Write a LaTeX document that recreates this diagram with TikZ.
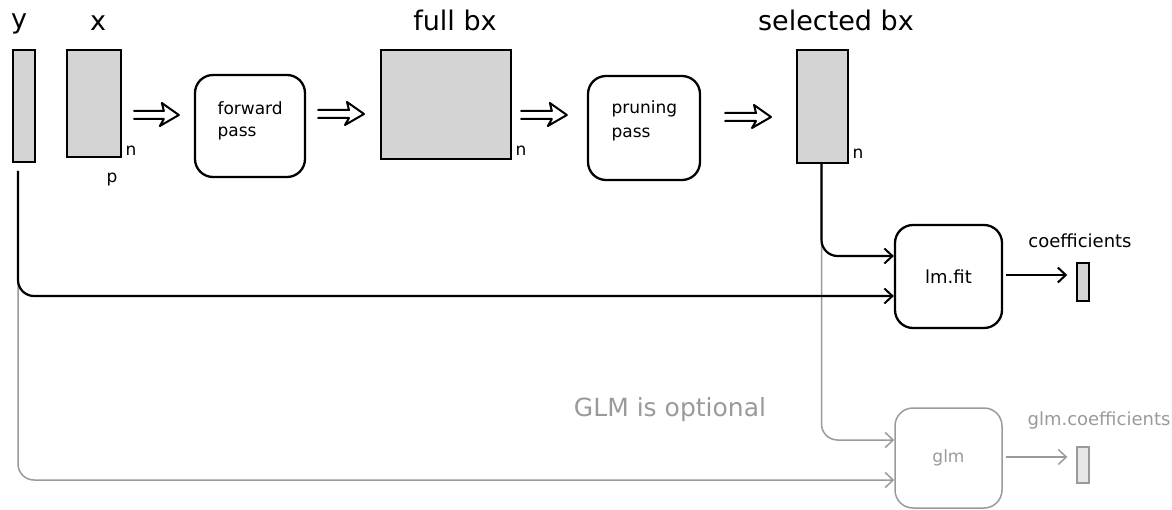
\documentclass[tikz,border=0pt]{standalone}
\usepackage{fontspec}
\setmainfont{DejaVu Sans}
\usetikzlibrary{arrows.meta,calc}
\definecolor{boxgray}{HTML}{D4D4D4}
\definecolor{lightfill}{HTML}{E6E6E6}
\definecolor{optgray}{HTML}{9A9A9A}
\tikzset{
  mat/.style={draw=black,line width=2pt,fill=boxgray,inner sep=0pt},
  stepbox/.style={draw=black,line width=2.3pt,rounded corners=18pt,inner sep=0pt,font=\fontsize{18}{20}\selectfont,align=left},
  optbox/.style={draw=optgray,line width=1.5pt,rounded corners=18pt,inner sep=0pt,text=optgray,font=\fontsize{17}{19}\selectfont},
  dblarrow/.style={draw=black,line width=2pt,line join=round,line cap=round},
  conn/.style={draw=black,line width=2.2pt,rounded corners=16pt,-{Straight Barb[length=8pt,width=15pt,line width=2pt]}},
  optconn/.style={draw=optgray,line width=1.5pt,rounded corners=16pt,-{Straight Barb[length=8pt,width=15pt,line width=1.5pt]}},
  big/.style={font=\fontsize{27}{30}\selectfont},
  small/.style={font=\fontsize{18}{20}\selectfont},
  steptext/.style={anchor=west,font=\fontsize{17}{19}\selectfont},
  dim/.style={font=\fontsize{17}{19}\selectfont},
}
\newcommand{\fatarrow}[2]{%
  \draw[dblarrow] ($(#1)+(0,-4)$) -- ($(#2)+(-15,-4)$) -- ($(#2)+(-17,-12)$) -- (#2)
     -- ($(#2)+(-19,11)$) -- ($(#2)+(-15,4)$) -- ($(#1)+(0,4)$);}
\begin{document}
\begin{tikzpicture}[x=1pt,y=-1pt]
\useasboundingbox (0,0) rectangle (1172,510);
% top row
\node[mat,minimum width=22pt,minimum height=112pt] (ysq) at (24,106) {};
\node[mat,minimum width=54pt,minimum height=107pt] (xsq) at (94,103.5) {};
\node[stepbox,minimum width=110pt,minimum height=102pt] (fwd) at (250,126) {};
\node[mat,minimum width=130pt,minimum height=109pt] (full) at (446,104.5) {};
\node[stepbox,minimum width=112pt,minimum height=104pt] (prune) at (644,128) {};
\node[mat,minimum width=51pt,minimum height=113pt] (sel) at (822.5,106.5) {};
% step texts
\node[steptext] (fwdt1) at (214,108) {forward};
\node[steptext] (fwdt2) at (214,134) {pass};
\node[steptext] (prt1) at (608,109) {pruning};
\node[steptext] (prt2) at (608,135) {pass};
% labels
\node[big] (ylab) at (19,24) {y};
\node[big] (xlab) at (98,23) {x};
\node[big] (fulllab) at (455,20) {full bx};
\node[big] (sellab) at (836,20) {selected bx};
\node[dim] (n1) at (131,151) {n};
\node[dim] (p1) at (112,180) {p};
\node[dim] (n2) at (521,151) {n};
\node[dim] (n3) at (858,154) {n};
% lower boxes
\node[stepbox,minimum width=107pt,minimum height=103pt] (lm) at (948.5,276.5) {lm.fit};
\node[mat,line width=1.5pt,minimum width=12pt,minimum height=38pt] (coef) at (1083,282) {};
\node[small] (coeflab) at (1080,241) {coefficients};
\node[optbox,minimum width=107pt,minimum height=100pt] (glm) at (948.5,458) {glm};
\node[draw=optgray,fill=lightfill,line width=1.3pt,inner sep=0pt,minimum width=12pt,minimum height=36pt] (gcoef) at (1083,465) {};
\node[small,text=optgray] (gcoeflab) at (1099,421) {glm.coefficients};
\node[text=optgray,font=\fontsize{25}{28}\selectfont] (optlab) at (670,410) {GLM is optional};
% double arrows
\coordinate (a1s) at ([xshift=12pt,yshift=-11.5pt]xsq.east);
\coordinate (a1e) at ([xshift=-15pt,yshift=11pt]fwd.west);
\coordinate (a2s) at ([xshift=12pt,yshift=12pt]fwd.east);
\coordinate (a2e) at ([xshift=-16pt,yshift=-9.5pt]full.west);
\coordinate (a3s) at ([xshift=9pt,yshift=-10.5pt]full.east);
\coordinate (a3e) at ([xshift=-20pt,yshift=13pt]prune.west);
\coordinate (a4s) at ([xshift=24pt,yshift=11pt]prune.east);
\coordinate (a4e) at ([xshift=-25pt,yshift=-10.5pt]sel.west);
\fatarrow{a1s}{a1e}
\fatarrow{a2s}{a2e}
\fatarrow{a3s}{a3e}
\fatarrow{a4s}{a4e}
% gray (optional) connectors
\draw[optconn] ([xshift=-6pt,yshift=-8pt]ysq.south) |- ([yshift=-22pt]glm.west);
\draw[optconn] ([xshift=-1pt]sel.south) |- ([yshift=18pt]glm.west);
\draw[optconn] ([xshift=3pt,yshift=1pt]glm.east) -- ([xshift=-9pt,yshift=8pt]gcoef.west);
% black connectors
\draw[conn] ([xshift=-6pt,yshift=-8pt]ysq.south) |- ([yshift=-19.5pt]lm.west);
\draw[conn] ([xshift=-1pt]sel.south) |- ([yshift=20.5pt]lm.west);
\draw[conn] ([xshift=3pt,yshift=1.5pt]lm.east) -- ([xshift=-9pt,yshift=7pt]coef.west);
\end{tikzpicture}
\end{document}
